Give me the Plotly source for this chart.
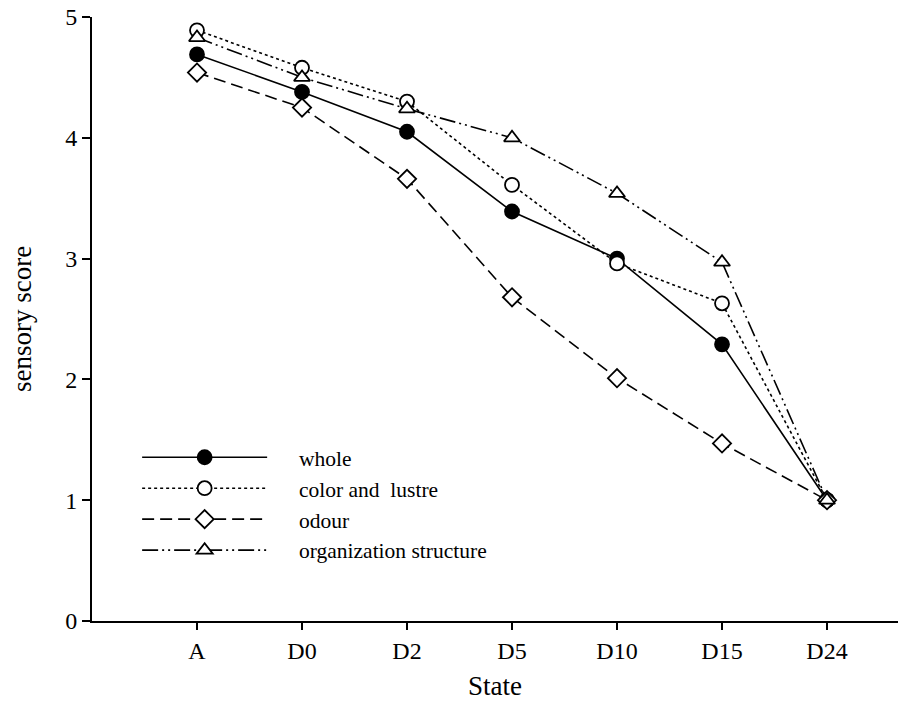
import plotly.graph_objects as go

states = ["A", "D0", "D2", "D5", "D10", "D15", "D24"]
whole = [4.69, 4.38, 4.05, 3.39, 3.00, 2.29, 1.00]
color_lustre = [4.89, 4.58, 4.30, 3.61, 2.96, 2.63, 1.00]
odour = [4.54, 4.25, 3.66, 2.68, 2.01, 1.47, 1.00]
organization = [4.83, 4.50, 4.24, 4.00, 3.54, 2.97, 1.00]

FONT = "Liberation Serif"
PAD = "\u00a0" * 5

series = [
    ("whole", whole, "solid", "circle", "black"),
    ("color and \u00a0lustre", color_lustre, "dot", "circle", "white"),
    ("odour", odour, "12px,6px", "diamond", "white"),
    ("organization structure", organization, "16px,4px,2px,4px,2px,4px", "triangle-up", "white"),
]

fig = go.Figure()
for name, vals, dash, sym, fill in series:
    fig.add_trace(go.Scatter(
        x=states, y=vals, name=PAD + name, mode="lines+markers",
        line=dict(color="black", width=1.6, dash=dash),
        marker=dict(symbol=sym, size=14, color=fill,
                    line=dict(color="black", width=1.8)),
    ))

fig.update_layout(
    width=901, height=704,
    margin=dict(l=92, r=3, t=17, b=83),
    paper_bgcolor="white", plot_bgcolor="white",
    font=dict(family=FONT, size=24, color="black"),
    showlegend=True,
    legend=dict(x=0.056, y=0.305, xanchor="left", yanchor="top",
                bgcolor="rgba(0,0,0,0)", font=dict(family=FONT, size=21.5),
                itemwidth=125, tracegroupgap=0),
)
fig.update_xaxes(
    type="category", range=[-1, 6.676],
    showline=True, linecolor="black", linewidth=2,
    ticks="outside", ticklen=7, tickwidth=2, tickcolor="black",
    showgrid=False, zeroline=False,
    title=dict(text="State", font=dict(family=FONT, size=27), standoff=13),
    tickfont=dict(family=FONT, size=24),
)
fig.update_yaxes(
    range=[0, 5], tickvals=[0, 1, 2, 3, 4, 5],
    showline=True, linecolor="black", linewidth=2,
    ticks="outside", ticklen=8, tickwidth=2, tickcolor="black",
    showgrid=False, zeroline=False,
    title=dict(text="sensory score", font=dict(family=FONT, size=27), standoff=26),
    tickfont=dict(family=FONT, size=24),
)

fig.write_html("out.html")
